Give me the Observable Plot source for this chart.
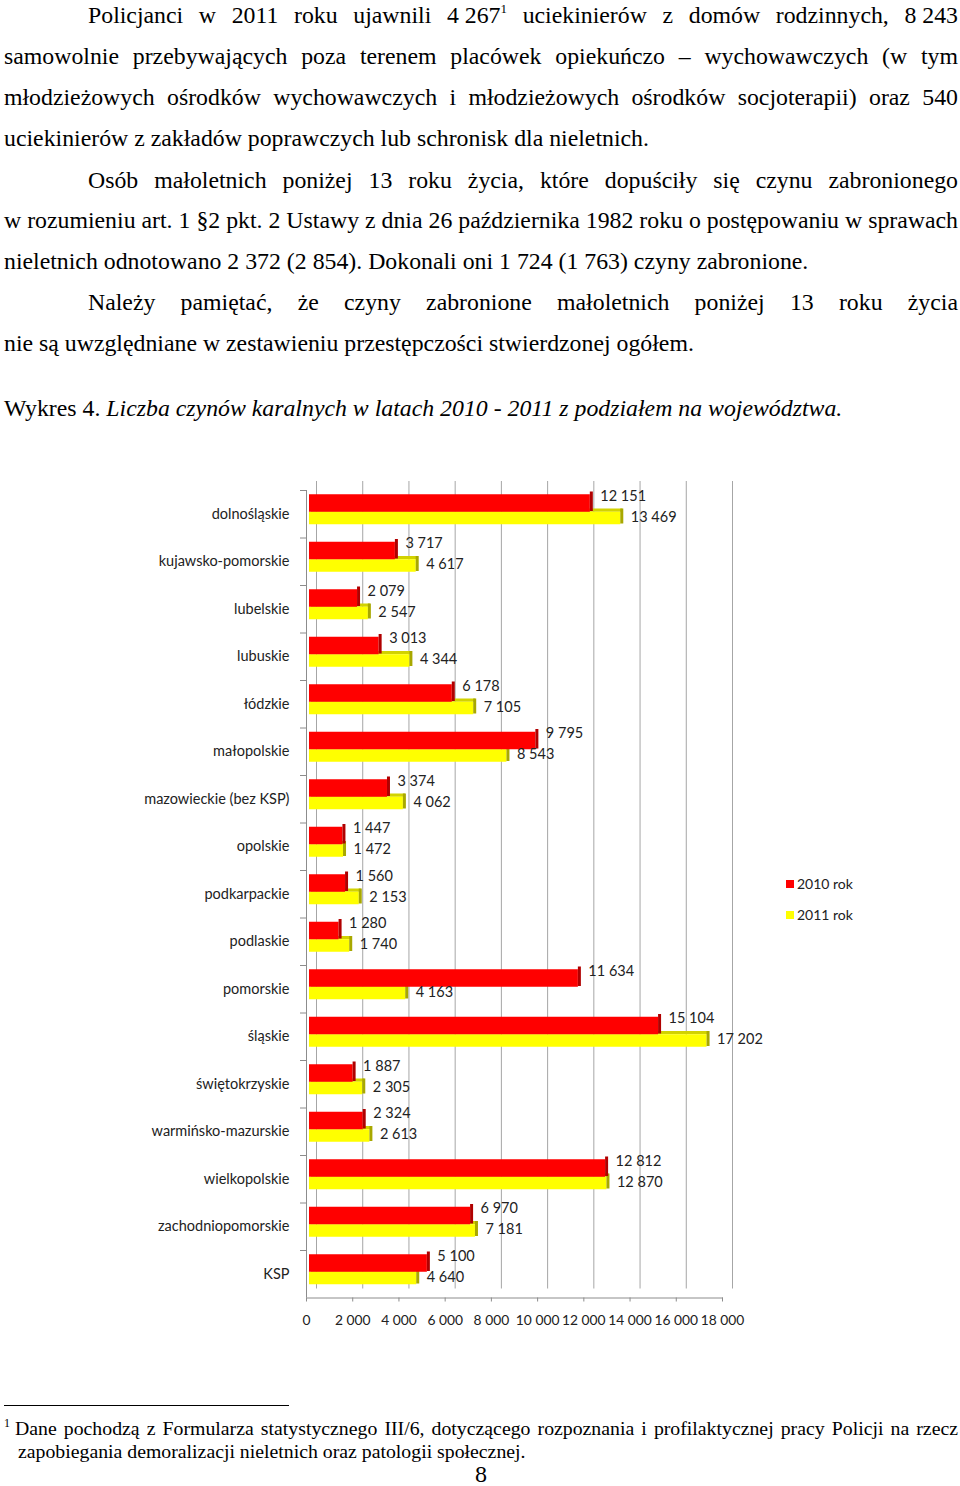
<!DOCTYPE html>
<html>
<head>
<meta charset="utf-8">
<script src="https://cdn.jsdelivr.net/npm/d3@7"></script>
<script src="https://cdn.jsdelivr.net/npm/@observablehq/plot@0.6"></script>
<style>
  html, body { margin: 0; padding: 0; background: #fff; }
  #page { position: relative; width: 960px; height: 1486px; overflow: hidden; background: #fff; color: #000; }
  .ln { position: absolute; left: 4px; width: 954px; font-family: "Liberation Serif", "Times New Roman", serif; font-size: 23.8px; line-height: 26px; white-space: nowrap; }
  .ind { left: 88px; width: 870px; }
  .j { text-align: justify; text-align-last: justify; }
  .nb { display: inline-block; text-align-last: auto; white-space: nowrap; }
  sup { font-size: 13px; line-height: 0; vertical-align: 10px; }
  #chart { position: absolute; left: 0; top: 470px; }
  .leg { position: absolute; left: 786px; font-family: Lato, sans-serif; font-size: 14px; color: #222; line-height: 16px; }
  .leg span.sw { display: inline-block; width: 8px; height: 8px; margin-right: 3px; vertical-align: 1px; }
  .fn { position: absolute; font-family: "Liberation Serif", "Times New Roman", serif; font-size: 19.8px; line-height: 22px; white-space: nowrap; }
</style>
</head>
<body>
<div id="page">
  <div class="ln ind j" style="top:2px">Policjanci w 2011 roku ujawnili <span class="nb">4 267<sup>1</sup></span> uciekinierów z domów rodzinnych, <span class="nb">8 243</span></div>
  <div class="ln j" style="top:43px">samowolnie przebywających poza terenem placówek opiekuńczo – wychowawczych (w tym</div>
  <div class="ln j" style="top:84px">młodzieżowych ośrodków wychowawczych i młodzieżowych ośrodków socjoterapii) oraz 540</div>
  <div class="ln" style="top:125px">uciekinierów z zakładów poprawczych lub schronisk dla nieletnich.</div>
  <div class="ln ind j" style="top:167px">Osób małoletnich poniżej 13 roku życia, które dopuściły się czynu zabronionego</div>
  <div class="ln j" style="top:207px">w rozumieniu art. 1 <span class="nb">§2</span> pkt. 2 Ustawy z dnia 26 października 1982 roku o postępowaniu w sprawach</div>
  <div class="ln" style="top:248px">nieletnich odnotowano 2 372 (2 854). Dokonali oni 1 724 (1 763) czyny zabronione.</div>
  <div class="ln ind j" style="top:289px">Należy pamiętać, że czyny zabronione małoletnich poniżej 13 roku życia</div>
  <div class="ln" style="top:330px">nie są uwzględniane w zestawieniu przestępczości stwierdzonej ogółem.</div>
  <div class="ln" style="top:395px">Wykres 4. <i>Liczba czynów karalnych w latach 2010 - 2011 z podziałem na województwa.</i></div>

  <div id="chart"></div>

  <div class="leg" style="top:876px"><span class="sw" style="background:#ff0000"></span>2010 rok</div>
  <div class="leg" style="top:907px"><span class="sw" style="background:#ffff00"></span>2011 rok</div>

  <div style="position:absolute; left:4px; top:1405px; width:285px; height:1px; background:#000"></div>
  <div class="fn" style="left:4px; top:1417px; width:954px; text-align:justify; text-align-last:justify;"><span class="nb"><sup style="font-size:12px; vertical-align:8px">1</sup> Dane</span> pochodzą z Formularza statystycznego III/6, dotyczącego rozpoznania i profilaktycznej pracy Policji na rzecz</div>
  <div class="fn" style="left:18px; top:1440px;">zapobiegania demoralizacji nieletnich oraz patologii społecznej.</div>
  <div class="fn" style="left:475px; top:1461px; font-size:24px; line-height:26px;">8</div>
</div>
<script>
const regions = ["dolnośląskie","kujawsko-pomorskie","lubelskie","lubuskie","łódzkie","małopolskie","mazowieckie (bez KSP)","opolskie","podkarpackie","podlaskie","pomorskie","śląskie","świętokrzyskie","warmińsko-mazurskie","wielkopolskie","zachodniopomorskie","KSP"];
const values2010 = [12151,3717,2079,3013,6178,9795,3374,1447,1560,1280,11634,15104,1887,2324,12812,6970,5100];
const values2011 = [13469,4617,2547,4344,7105,8543,4062,1472,2153,1740,4163,17202,2305,2613,12870,7181,4640];
const xTicks = [0,2000,4000,6000,8000,10000,12000,14000,16000,18000];
const seriesColors = {y2010: "#ff0000", y2011: "#ffff00"};

const fmt = d3.formatLocale({thousands: " ", grouping: [3], decimal: ","}).format(",");
const rows = regions.map((r, i) => ({region: r, v10: values2010[i], v11: values2011[i]}));

const chart = Plot.plot({
  width: 960,
  height: 880,
  marginLeft: 306,
  marginRight: 238,
  marginTop: 20,
  marginBottom: 52.5,
  style: {fontFamily: "Lato, sans-serif", fontSize: "14px", color: "#222", background: "transparent"},
  x: {domain: [0, 18000], ticks: xTicks, tickFormat: fmt},
  y: {domain: regions, padding: 0, round: false, label: null},
  marks: [
    Plot.gridX(xTicks, {dx: 10, dy: -9, stroke: "#a6a6a6", strokeOpacity: 1}),
    Plot.frame({anchor: "bottom", stroke: "#8c8c8c"}),
    Plot.ruleX([0], {stroke: "#8c8c8c"}),
    Plot.axisX(xTicks, {tickSize: 4, tickPadding: 13.5, tickFormat: fmt, label: null, fontSize: 13.8, stroke: "#8c8c8c", fill: "#222"}),
    Plot.axisY({tickSize: 0, tickPadding: 17, label: null, fontSize: 14.5, fill: "#222"}),
    Plot.axisY({tickSize: 6, tickFormat: () => "", dy: -23.75, label: null, stroke: "#8c8c8c"}),
    // yellow top face (visible where it extends past the red bar)
    Plot.barX(rows, {y: "region", x1: 0, x2: "v11", fill: "#d2d200", dx: 5, insetTop: 18.5, insetBottom: 25.75}),
    // yellow bars
    Plot.barX(rows, {y: "region", x1: 0, x2: "v11", fill: seriesColors.y2011, dx: 3, insetTop: 21.75, insetBottom: 13.25}),
    Plot.barX(rows, {y: "region", x1: "v11", x2: "v11", fill: "#a8a800", dx: 3, insetRight: -3, insetTop: 18.5, insetBottom: 14}),
    // red bars
    Plot.barX(rows, {y: "region", x1: 0, x2: "v10", fill: seriesColors.y2010, dx: 3, insetTop: 4.25, insetBottom: 25.75}),
    Plot.barX(rows, {y: "region", x1: "v10", x2: "v10", fill: "#b00000", dx: 3, insetRight: -3, insetTop: 1.5, insetBottom: 26.5}),
    Plot.text(rows, {y: "region", x: "v10", text: d => fmt(d.v10), dx: 13, dy: -18, textAnchor: "start", fontSize: 14.5, fill: "#222"}),
    Plot.text(rows, {y: "region", x: "v11", text: d => fmt(d.v11), dx: 13, dy: 3, textAnchor: "start", fontSize: 14.5, fill: "#222"})
  ]
});
document.getElementById("chart").appendChild(chart);
</script>
</body>
</html>
